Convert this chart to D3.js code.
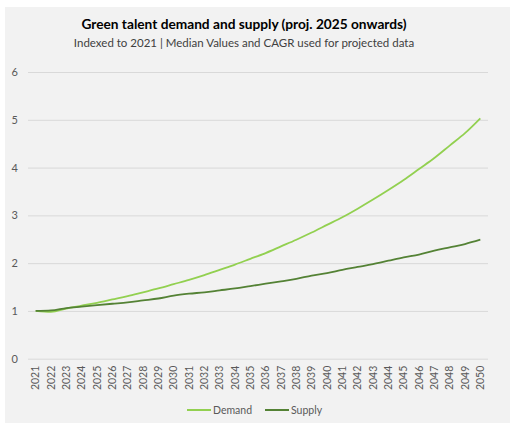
<!DOCTYPE html>
<html>
<head>
<meta charset="utf-8">
<script src="https://cdn.jsdelivr.net/npm/d3@7"></script>
<style>
  html, body { margin: 0; padding: 0; background: #ffffff; }
  svg { display: block; }
</style>
</head>
<body>
<script>
// Green talent demand vs supply index (2021 = 1), projected from 2025
const years = d3.range(2021, 2051).map(String);
const demand = [1.00, 0.98, 1.05, 1.11, 1.17, 1.24, 1.31, 1.39, 1.47, 1.56,
                1.65, 1.75, 1.86, 1.97, 2.09, 2.21, 2.35, 2.49, 2.64, 2.80,
                2.96, 3.14, 3.33, 3.53, 3.74, 3.97, 4.20, 4.46, 4.72, 5.03];
const supply = [1.00, 1.01, 1.06, 1.09, 1.12, 1.15, 1.18, 1.22, 1.26, 1.32,
                1.36, 1.39, 1.43, 1.47, 1.52, 1.57, 1.62, 1.67, 1.74, 1.79,
                1.86, 1.92, 1.98, 2.05, 2.12, 2.18, 2.26, 2.33, 2.40, 2.49];
const yTicks = [0, 1, 2, 3, 4, 5, 6];
const seriesNames = ["Demand", "Supply"];
const seriesColors = ["#92d050", "#548235"];

const W = 514, H = 426;
const svg = d3.select("body").append("svg").attr("width", W).attr("height", H);

// panel background
svg.append("rect").attr("x", 5).attr("y", 7).attr("width", 505).attr("height", 416)
  .attr("fill", "#f2f2f2");

const font = "Lato, 'Open Sans', sans-serif";

svg.append("text").attr("x", 244).attr("y", 29).attr("text-anchor", "middle")
  .attr("font-family", font).attr("font-weight", 700).attr("font-size", 13.7)
  .attr("fill", "#000").text("Green talent demand and supply (proj. 2025 onwards)");
svg.append("text").attr("x", 244).attr("y", 47).attr("text-anchor", "middle")
  .attr("font-family", font).attr("font-size", 11.5)
  .attr("fill", "#404040").text("Indexed to 2021 | Median Values and CAGR used for projected data");

const x = d3.scaleBand().domain(years).range([28, 488]);
const y = d3.scaleLinear().domain([0, 6]).range([358.7, 72]);

// gridlines + y labels
const yAxis = d3.axisLeft(y).tickValues(yTicks).tickFormat(d3.format("d"))
  .tickSize(-(488 - 28)).tickPadding(10);
const gy = svg.append("g").attr("transform", "translate(28,0)").call(yAxis);
gy.select(".domain").remove();
gy.selectAll(".tick line").attr("stroke", "#d9d9d9").attr("stroke-width", 1);
gy.selectAll(".tick text").attr("font-family", font).attr("font-size", 11)
  .attr("fill", "#595959");

// x labels (rotated)
const xAxis = d3.axisBottom(x).tickSize(0).tickPadding(0);
const gx = svg.append("g").attr("transform", "translate(0,358.7)").call(xAxis);
gx.select(".domain").remove();
gx.selectAll(".tick text")
  .attr("font-family", font).attr("font-size", 10.5).attr("fill", "#595959")
  .attr("transform", "rotate(-90)")
  .attr("text-anchor", "end")
  .attr("x", -7).attr("y", 0).attr("dy", "0.35em");

// lines
const line = d3.line()
  .x((d, i) => x(years[i]) + x.bandwidth() / 2)
  .y(d => y(d))
  .curve(d3.curveMonotoneX);

[demand, supply].forEach((s, k) => {
  svg.append("path").datum(s).attr("d", line)
    .attr("fill", "none").attr("stroke", seriesColors[k])
    .attr("stroke-width", 1.8).attr("stroke-linejoin", "round");
});

// legend
const legendX = [187, 265];
seriesNames.forEach((n, k) => {
  const g = svg.append("g").attr("transform", `translate(${legendX[k]},410)`);
  g.append("line").attr("x1", 0).attr("x2", 24).attr("y1", 0).attr("y2", 0)
    .attr("stroke", seriesColors[k]).attr("stroke-width", 2);
  g.append("text").attr("x", 26).attr("y", 0).attr("dy", "0.35em")
    .attr("font-family", font).attr("font-size", 10.5).attr("fill", "#595959").text(n);
});
</script>
</body>
</html>
